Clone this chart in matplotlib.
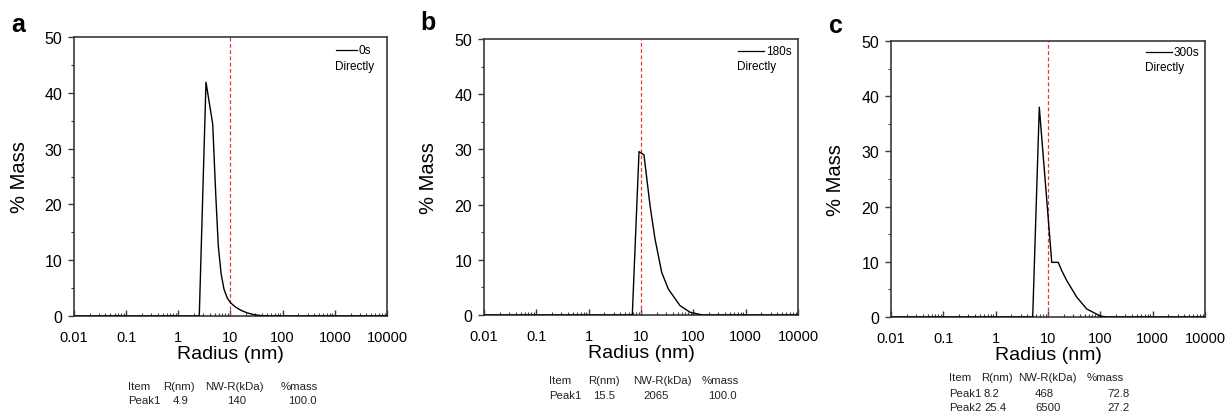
#!/usr/bin/env python3
"""DLS mass distributions (% mass vs radius) for three sonication times."""

from __future__ import annotations

import matplotlib

matplotlib.use("Agg")
import matplotlib.pyplot as plt
from matplotlib.ticker import FixedLocator, LogLocator, NullFormatter

plt.rcParams["font.family"] = ["Liberation Sans", "DejaVu Sans"]

# values
radius_a = [0.01, 2.52, 3.39, 4.56, 5.2, 5.83, 6.6, 7.5, 8.7, 10.2, 12.5, 16, 21, 28, 38, 50, 10000]
mass_a = [0, 0, 41.9, 34.4, 22.0, 12.6, 7.6, 4.8, 3.2, 2.3, 1.6, 1.0, 0.55, 0.25, 0.08, 0, 0]

radius_b = [0.01, 6.82, 9.17, 11.4, 14.9, 18.5, 24.9, 33.3, 55.6, 86.5, 150, 10000]
mass_b = [0, 0, 29.6, 29.0, 19.8, 13.8, 7.7, 4.7, 1.7, 0.5, 0, 0]

radius_c = [0.01, 5.10, 6.82, 11.8, 15.7, 18.3, 22.8, 35.4, 55.0, 98.6, 130, 10000]
mass_c = [0, 0, 38.0, 9.9, 9.9, 8.4, 6.6, 3.6, 1.45, 0.2, 0, 0]

panel_letters = ["a", "b", "c"]
legend_labels = ["0s", "180s", "300s"]
legend_note = "Directly"
cutoff_radius = 10

x_ticks = [0.01, 0.1, 1, 10, 100, 1000, 10000]
x_tick_labels = ["0.01", "0.1", "1", "10", "100", "1000", "10000"]

table_header = ["Item", "R(nm)", "NW-R(kDa)", "%mass"]
table_a = [["Peak1", "4.9", "140", "100.0"]]
table_b = [["Peak1", "15.5", "2065", "100.0"]]
table_c = [["Peak1", "8.2", "468", "72.8"], ["Peak2", "25.4", "6500", "27.2"]]

W, H = 1229, 414
SPINE = "#3a3a3a"


def fx(px: float) -> float:
    return px / W


def fy(py: float) -> float:
    return 1 - py / H


def draw_panel(fig, box, radius, mass, letter, leg, leg_pos, table, tab_cols, tab_rows, letter_xy):
    left, top, right, bottom = box
    ax = fig.add_axes([fx(left), fy(bottom), fx(right - left), (bottom - top) / H])
    ax.plot(radius, mass, color="black", lw=1.0, zorder=3)
    ax.axvline(cutoff_radius, color="#e0393b", lw=0.9, dashes=(3, 2), zorder=2)

    ax.set_xscale("log")
    ax.set_xlim(0.01, 10000)
    ax.set_ylim(0, 50)
    ax.xaxis.set_major_locator(FixedLocator(x_ticks))
    ax.set_xticklabels(x_tick_labels)
    ax.xaxis.set_minor_locator(LogLocator(base=10, subs=range(2, 10), numticks=20))
    ax.xaxis.set_minor_formatter(NullFormatter())
    ax.set_yticks([0, 10, 20, 30, 40, 50])
    ax.set_yticks([5, 15, 25, 35, 45], minor=True)

    ax.tick_params(axis="x", which="major", direction="in", length=4, width=1.0,
                   color=SPINE, pad=10, labelsize=10.5)
    ax.tick_params(axis="x", which="minor", direction="in", length=2.5, width=0.8, color=SPINE)
    ax.tick_params(axis="y", which="major", direction="out", length=4.5, width=1.0,
                   color=SPINE, pad=4, labelsize=11.5)
    ax.tick_params(axis="y", which="minor", direction="out", length=2.5, width=0.8, color=SPINE)
    for s in ax.spines.values():
        s.set_color(SPINE)
        s.set_linewidth(1.2)

    ax.set_xlabel("Radius (nm)", fontsize=14)
    ax.set_ylabel("% Mass", fontsize=14.5)
    ax.xaxis.set_label_coords(0.5, -0.105)
    ax.yaxis.set_label_coords(-0.145, 0.5)

    # legend: short line + time, then note below
    lx0, lx1, ly, ny = leg_pos
    ax.plot([lx0, lx1], [ly, ly], transform=ax.transAxes, color="black", lw=0.9, clip_on=False)
    ax.text(lx1 + 0.006, ly, leg, transform=ax.transAxes, fontsize=8.5, va="center", ha="left")
    ax.text(lx0 - 0.003, ny, legend_note, transform=ax.transAxes, fontsize=8.5, va="center", ha="left")

    fig.text(fx(letter_xy[0]), fy(letter_xy[1]), letter, fontsize=18, fontweight="bold",
             ha="center", va="center")

    rows = [table_header] + table
    for r, (row, ypx) in enumerate(zip(rows, tab_rows)):
        for c, cell in enumerate(row):
            fig.text(fx(tab_cols[r > 0][c]), fy(ypx), cell, fontsize=8.2, ha="left", va="center",
                     color="#222222")
    return ax


def main() -> None:
    fig = plt.figure(figsize=(W / 100, H / 100), dpi=100)

    draw_panel(fig, (74, 38, 387, 317), radius_a, mass_a, panel_letters[0], legend_labels[0],
               (0.837, 0.903, 0.953, 0.896), table_a,
               ([128, 163, 205, 281], [128, 173, 227, 288]), [387, 401], (18, 25))
    draw_panel(fig, (484, 40, 798, 316), radius_b, mass_b, panel_letters[1], legend_labels[1],
               (0.808, 0.892, 0.958, 0.903), table_b,
               ([549, 588, 633, 702], [549, 593, 643, 708]), [381, 396], (428, 23))
    draw_panel(fig, (891, 42, 1205, 318), radius_c, mass_c, panel_letters[2], legend_labels[2],
               (0.812, 0.894, 0.959, 0.905), table_c,
               ([949, 981, 1018, 1087], [949, 984, 1035, 1107]), [378, 394, 408], (836, 26))

    fig.savefig("out.png", dpi=100)
    plt.close(fig)


if __name__ == "__main__":
    main()
